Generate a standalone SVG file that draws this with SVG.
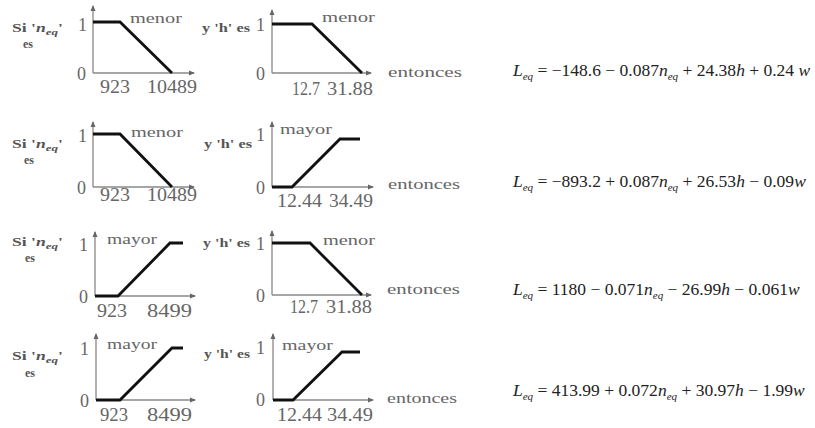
<svg xmlns="http://www.w3.org/2000/svg" width="815" height="428" viewBox="0 0 815 428">
<defs>
<marker id="ah" viewBox="0 0 6 6" refX="5" refY="3" markerWidth="6" markerHeight="6" orient="auto" markerUnits="userSpaceOnUse"><path d="M0,0.5 L6,3 L0,5.5 z" fill="#666"/></marker>
<style>
.ax{stroke:#888;stroke-width:1.3;fill:none;marker-end:url(#ah)}
.cv{stroke:#111;stroke-width:2.8;fill:none;stroke-linejoin:miter}
.lb{font-family:"Liberation Serif",serif;font-size:18px;fill:#666}
.wd{font-family:"Liberation Serif",serif;font-size:15px;fill:#666}
.si{font-family:"Liberation Serif",serif;font-size:12px;font-weight:bold;fill:#555}
.eq{font-family:"Liberation Serif",serif;font-size:17.5px;fill:#222}
.it{font-style:italic}
.sb{font-size:11px;font-style:italic}
</style>
</defs>
<rect width="815" height="428" fill="#fff"/>

<!-- Row 1 -->
<g id="row1-cond">
<text class="si" x="12" y="32" textLength="51" lengthAdjust="spacingAndGlyphs">Si '<tspan class="it">n</tspan><tspan dy="3" font-size="9" class="it">eq</tspan><tspan dy="-3">'</tspan></text>
<text class="si" x="23" y="48">es</text>
</g>
<g id="row1-neq">
<line class="ax" x1="93" y1="73" x2="194" y2="73"/>
<line class="ax" x1="93" y1="73" x2="93" y2="6"/>
<polyline class="cv" points="93,22 120,22 172,73"/>
<text class="lb" x="78" y="31">1</text>
<text class="lb" x="77" y="80">0</text>
<text class="lb" x="100" y="93" textLength="30" lengthAdjust="spacingAndGlyphs">923</text>
<text class="lb" x="147" y="93" textLength="50" lengthAdjust="spacingAndGlyphs">10489</text>
<text class="wd" x="130" y="23" textLength="52" lengthAdjust="spacingAndGlyphs">menor</text>
</g>
<g id="row1-h">
<text class="si" x="202" y="32" textLength="48" lengthAdjust="spacingAndGlyphs">y 'h' es</text>
<line class="ax" x1="272" y1="73" x2="371" y2="73"/>
<line class="ax" x1="272" y1="73" x2="272" y2="10"/>
<polyline class="cv" points="272,24 312,24 362,73"/>
<text class="lb" x="256" y="31">1</text>
<text class="lb" x="256" y="80">0</text>
<text class="lb" x="292" y="95" textLength="28" lengthAdjust="spacingAndGlyphs">12.7</text>
<text class="lb" x="327" y="95" textLength="46" lengthAdjust="spacingAndGlyphs">31.88</text>
<text class="wd" x="322" y="22" textLength="53" lengthAdjust="spacingAndGlyphs">menor</text>
<text class="wd" x="388" y="77" textLength="74" lengthAdjust="spacingAndGlyphs">entonces</text>
</g>
<g id="row1-eq">
<text class="eq" x="513" y="76"><tspan class="it">L</tspan><tspan class="sb" dy="4">eq</tspan><tspan dy="-4"> = −148.6 − 0.087</tspan><tspan class="it">n</tspan><tspan class="sb" dy="4">eq</tspan><tspan dy="-4"> + 24.38</tspan><tspan class="it">h</tspan> + 0.24 <tspan class="it">w</tspan></text>
</g>

<!-- Row 2 -->
<g id="row2-cond">
<text class="si" x="12" y="148" textLength="51" lengthAdjust="spacingAndGlyphs">Si '<tspan class="it">n</tspan><tspan dy="3" font-size="9" class="it">eq</tspan><tspan dy="-3">'</tspan></text>
<text class="si" x="24" y="164">es</text>
</g>
<g id="row2-neq">
<line class="ax" x1="93" y1="187" x2="194" y2="187"/>
<line class="ax" x1="93" y1="187" x2="93" y2="122"/>
<polyline class="cv" points="93,134 120,134 172,187"/>
<text class="lb" x="78" y="142">1</text>
<text class="lb" x="77" y="194">0</text>
<text class="lb" x="100" y="201" textLength="30" lengthAdjust="spacingAndGlyphs">923</text>
<text class="lb" x="147" y="201" textLength="50" lengthAdjust="spacingAndGlyphs">10489</text>
<text class="wd" x="131" y="137" textLength="52" lengthAdjust="spacingAndGlyphs">menor</text>
</g>
<g id="row2-h">
<text class="si" x="204" y="148" textLength="48" lengthAdjust="spacingAndGlyphs">y 'h' es</text>
<line class="ax" x1="272" y1="187" x2="373" y2="187"/>
<line class="ax" x1="272" y1="187" x2="272" y2="122"/>
<polyline class="cv" points="272,187 292,187 340,139 360,139"/>
<text class="lb" x="256" y="141">1</text>
<text class="lb" x="256" y="194">0</text>
<text class="lb" x="277" y="207" textLength="45" lengthAdjust="spacingAndGlyphs">12.44</text>
<text class="lb" x="329" y="207" textLength="44" lengthAdjust="spacingAndGlyphs">34.49</text>
<text class="wd" x="280" y="134" textLength="52" lengthAdjust="spacingAndGlyphs">mayor</text>
<text class="wd" x="388" y="189" textLength="72" lengthAdjust="spacingAndGlyphs">entonces</text>
</g>
<g id="row2-eq">
<text class="eq" x="513" y="187"><tspan class="it">L</tspan><tspan class="sb" dy="4">eq</tspan><tspan dy="-4"> = −893.2 + 0.087</tspan><tspan class="it">n</tspan><tspan class="sb" dy="4">eq</tspan><tspan dy="-4"> + 26.53</tspan><tspan class="it">h</tspan> − 0.09<tspan class="it">w</tspan></text>
</g>

<!-- Row 3 -->
<g id="row3-cond">
<text class="si" x="12" y="246" textLength="51" lengthAdjust="spacingAndGlyphs">Si '<tspan class="it">n</tspan><tspan dy="3" font-size="9" class="it">eq</tspan><tspan dy="-3">'</tspan></text>
<text class="si" x="25" y="262">es</text>
</g>
<g id="row3-neq">
<line class="ax" x1="95" y1="296" x2="195" y2="296"/>
<line class="ax" x1="95" y1="296" x2="95" y2="232"/>
<polyline class="cv" points="95,296 118,296 170,243 183,243"/>
<text class="lb" x="79" y="251">1</text>
<text class="lb" x="79" y="303">0</text>
<text class="lb" x="97" y="317" textLength="30" lengthAdjust="spacingAndGlyphs">923</text>
<text class="lb" x="147" y="317" textLength="45" lengthAdjust="spacingAndGlyphs">8499</text>
<text class="wd" x="107" y="244" textLength="50" lengthAdjust="spacingAndGlyphs">mayor</text>
</g>
<g id="row3-h">
<text class="si" x="203" y="247" textLength="47" lengthAdjust="spacingAndGlyphs">y 'h' es</text>
<line class="ax" x1="272" y1="295" x2="371" y2="295"/>
<line class="ax" x1="272" y1="295" x2="272" y2="231"/>
<polyline class="cv" points="272,243 310,243 362,295"/>
<text class="lb" x="256" y="250">1</text>
<text class="lb" x="256" y="302">0</text>
<text class="lb" x="290" y="313" textLength="28" lengthAdjust="spacingAndGlyphs">12.7</text>
<text class="lb" x="326" y="313" textLength="46" lengthAdjust="spacingAndGlyphs">31.88</text>
<text class="wd" x="323" y="245" textLength="52" lengthAdjust="spacingAndGlyphs">menor</text>
<text class="wd" x="387" y="294" textLength="73" lengthAdjust="spacingAndGlyphs">entonces</text>
</g>
<g id="row3-eq">
<text class="eq" x="513" y="295"><tspan class="it">L</tspan><tspan class="sb" dy="4">eq</tspan><tspan dy="-4"> = 1180 − 0.071</tspan><tspan class="it">n</tspan><tspan class="sb" dy="4">eq</tspan><tspan dy="-4"> − 26.99</tspan><tspan class="it">h</tspan> − 0.061<tspan class="it">w</tspan></text>
</g>

<!-- Row 4 -->
<g id="row4-cond">
<text class="si" x="12" y="360" textLength="51" lengthAdjust="spacingAndGlyphs">Si '<tspan class="it">n</tspan><tspan dy="3" font-size="9" class="it">eq</tspan><tspan dy="-3">'</tspan></text>
<text class="si" x="25" y="377">es</text>
</g>
<g id="row4-neq">
<line class="ax" x1="96" y1="400" x2="195" y2="400"/>
<line class="ax" x1="96" y1="400" x2="96" y2="334"/>
<polyline class="cv" points="96,400 120,400 172,348 183,348"/>
<text class="lb" x="80" y="355">1</text>
<text class="lb" x="80" y="407">0</text>
<text class="lb" x="100" y="421" textLength="28" lengthAdjust="spacingAndGlyphs">923</text>
<text class="lb" x="147" y="421" textLength="45" lengthAdjust="spacingAndGlyphs">8499</text>
<text class="wd" x="107" y="349" textLength="50" lengthAdjust="spacingAndGlyphs">mayor</text>
</g>
<g id="row4-h">
<text class="si" x="204" y="358" textLength="46" lengthAdjust="spacingAndGlyphs">y 'h' es</text>
<line class="ax" x1="273" y1="400" x2="373" y2="400"/>
<line class="ax" x1="273" y1="400" x2="273" y2="334"/>
<polyline class="cv" points="273,400 293,400 342,352 360,352"/>
<text class="lb" x="256" y="354">1</text>
<text class="lb" x="256" y="406">0</text>
<text class="lb" x="277" y="421" textLength="45" lengthAdjust="spacingAndGlyphs">12.44</text>
<text class="lb" x="327" y="421" textLength="46" lengthAdjust="spacingAndGlyphs">34.49</text>
<text class="wd" x="282" y="350" textLength="51" lengthAdjust="spacingAndGlyphs">mayor</text>
<text class="wd" x="387" y="403" textLength="70" lengthAdjust="spacingAndGlyphs">entonces</text>
</g>
<g id="row4-eq">
<text class="eq" x="513" y="396"><tspan class="it">L</tspan><tspan class="sb" dy="4">eq</tspan><tspan dy="-4"> = 413.99 + 0.072</tspan><tspan class="it">n</tspan><tspan class="sb" dy="4">eq</tspan><tspan dy="-4"> + 30.97</tspan><tspan class="it">h</tspan> − 1.99<tspan class="it">w</tspan></text>
</g>
</svg>
